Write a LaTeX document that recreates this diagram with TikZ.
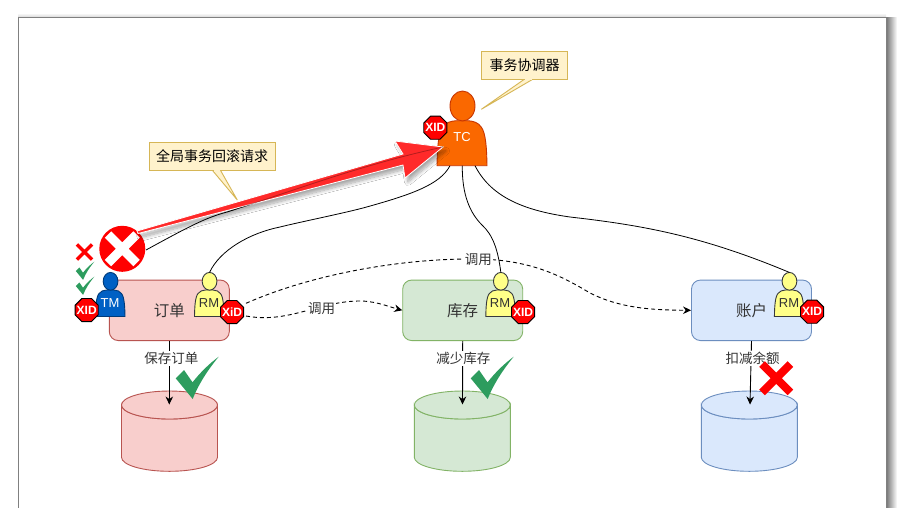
\documentclass[tikz,border=0pt]{standalone}
\usepackage{fontspec}
\setmainfont{Liberation Sans}
\newfontfamily\cjk{Noto Sans CJK SC}
\usepackage{tikz}
\usetikzlibrary{calc,shapes.geometric,arrows.meta,shadows.blur}
\definecolor{redfill}{HTML}{F8CECC}
\definecolor{redline}{HTML}{B85450}
\definecolor{greenfill}{HTML}{D5E8D4}
\definecolor{greenline}{HTML}{82B366}
\definecolor{bluefill}{HTML}{DAE8FC}
\definecolor{blueline}{HTML}{6C8EBF}
\definecolor{notefill}{HTML}{FFF2CC}
\definecolor{noteline}{HTML}{D6B656}
\definecolor{rmfill}{HTML}{FFFF88}
\definecolor{rmline}{HTML}{36393D}
\definecolor{tcfill}{HTML}{FA6800}
\definecolor{tcline}{HTML}{C73500}
\definecolor{tmfill}{HTML}{0060C4}
\definecolor{tmline}{HTML}{003A78}
\definecolor{okgreen}{HTML}{2D9C5E}
\definecolor{arrowred}{HTML}{FF2A2A}
\tikzset{
	box/.style={draw, line width=0.9, rounded corners=9, minimum width=120, minimum height=60.5, inner sep=0, font=\cjk\fontsize{15.5}{15.5}\selectfont, text=black!80},
	flow/.style={-{Stealth[length=8,width=7.5]}, black, line width=0.9},
	call/.style={flow, dash pattern=on 4 off 3},
	link/.style={black, line width=0.8},
	lbl/.style={fill=white, inner sep=1, font=\cjk\fontsize{13.5}{13.5}\selectfont, text=black!80},
	note/.style={draw=noteline, line width=0.9, fill=notefill, inner sep=0, minimum height=28, font=\cjk\fontsize{14}{14}\selectfont},
	who/.style={font=\fontsize{13}{13}\selectfont, inner sep=0},
	xidmark/.style={regular polygon, regular polygon sides=8, minimum size=25, inner sep=0, outer sep=0, draw=black, line width=0.9, fill=red, text=white, font=\fontsize{12}{12}\selectfont\bfseries},
}
% body and head, #2 = bottom left corner, #3 = scale, #4 = name of the top of the head
\def\person[#1](#2)(#3)#4{
	\begin{scope}[shift={(#2)},scale=#3]
		\draw[line width=0.9,#1] (0,0) .. controls (0.3,-16) and (1,-33) .. (6,-39) .. controls (9,-43) and (13,-44.5) .. (19,-45) -- (31,-45) .. controls (37,-44.5) and (41,-43) .. (44,-39) .. controls (49,-33) and (49.7,-16) .. (50,0) -- cycle;
		\draw[line width=0.9,#1] (25.5,-59.7) ellipse (12.5 and 15);
		\coordinate (#4) at (25.5,-74.7);
	\end{scope}
}
% can, #2 = centre of the top ellipse, #3 = name of that centre
\def\can[#1](#2)#3{
	\coordinate (#3) at (#2);
	\draw[line width=0.9,#1] ($(#3)+(-48,0)$) -- ($(#3)+(-48,52.3)$) arc (180:0:48 and 14) -- ($(#3)+(48,0)$) arc (0:180:48 and 14) -- cycle;
	\draw[line width=0.9,#1] (#3) ellipse (48 and 14);
}
\def\tick[#1](#2){
	\fill[okgreen, shift={(#2)}, scale=#1] (-16.8,-4) -- (-8.5,-12.3) -- (0,0) .. controls (8,-10) and (16,-18) .. (26.2,-25.6) .. controls (15,-12) and (6,2) .. (0.2,16.7) -- cycle;
}
\def\cross[#1,#2](#3){
	\draw[red, line width=#2, shift={(#3)}] (-#1,-#1) -- (#1,#1) (-#1,#1) -- (#1,-#1);
}
\begin{document}
\begin{tikzpicture}[x=1pt,y=-1pt]
	\useasboundingbox (0,0) rectangle (904,507);
	% page
	\shade[left color=black!55, right color=white] (886,17) rectangle (897,507);
	\shade[top color=white, bottom color=black!15] (18,13) rectangle (886,17);
	\fill[white, draw=black!50, line width=1] (18,17) -- (886,17) -- (886,515) -- (18,515) -- cycle;

	% services
	\node[box, draw=redline, fill=redfill] (order) at (169.3,310.3) {订单};
	\node[box, draw=greenline, fill=greenfill] (stock) at (462.7,310.3) {库存};
	\node[box, draw=blueline, fill=bluefill] (account) at (751.5,310.3) {账户};

	\can[draw=redline, fill=redfill](169.5,405){orderdb}
	\can[draw=greenline, fill=greenfill](462.3,405){stockdb}
	\can[draw=blueline, fill=bluefill](749.3,405){accountdb}

	\coordinate (ordertop) at (169.3,404.5);
	\coordinate (stocktop) at (462.5,404.5);
	\coordinate (accounttop) at (750,404.5);
	\draw[flow] (order.south) -- (ordertop);
	\draw[flow] (stock.south) -- (stocktop);
	\draw[flow] (account.south) -- (accounttop);
	\node[lbl] (saveorder) at (171.3,358.3) {保存订单};
	\node[lbl] (cutstock) at (463.3,358.3) {减少库存};
	\node[lbl] (cutmoney) at (752.7,358.3) {扣减余额};

	% persons
	\person[fill=tcfill,draw=tcline](437,165.7)(1){tctop}
	\person[fill=tmfill,draw=tmline](95.5,316.5)(0.59){tmtop}
	\person[fill=rmfill,draw=rmline](194.5,316.5)(0.59){rmatop}
	\person[fill=rmfill,draw=rmline](485.8,316.5)(0.59){rmbtop}
	\person[fill=rmfill,draw=rmline](774.4,316.5)(0.59){rmctop}
	\coordinate (tcleft) at (450,165.7);
	\coordinate (tcmid) at (462.3,165.7);
	\coordinate (tcright) at (475,165.7);
	\coordinate (tcside) at (443,147);
	\coordinate (stopedge) at (146,250);

	% links
	\draw[link] (stopedge) .. controls (190,226) and (205,218) .. (227,212) .. controls (290,192) and (360,165) .. (tcside);
	\draw[link] (tcleft) .. controls (440,185) and (410,195) .. (363,208) .. controls (340,214) and (300,222) .. (280,227) .. controls (250,233) and (220,250) .. (rmatop);
	\draw[link] (tcmid) .. controls (462,195) and (470,213) .. (482,225) .. controls (493,235) and (498,250) .. (rmbtop);
	\draw[link] (tcright) .. controls (490,195) and (520,210) .. (570,217) .. controls (640,225) and (700,235) .. (rmctop);

	\node[who, text=white] (tclabel) at (462,137) {TC};
	\node[who, text=white] (tmlabel) at (110,303) {TM};
	\node[who, text=black!80] (rmalabel) at (209,303) {RM};
	\node[who, text=black!80] (rmblabel) at (500,303) {RM};
	\node[who, text=black!80] (rmclabel) at (789,303) {RM};

	% calls
	\coordinate (calllowstart) at (246,316);
	\coordinate (callhighstart) at (246,303.3);
	\draw[call] (calllowstart) .. controls (290,324) and (320,300) .. (363,301) .. controls (378,302) and (390,307) .. (stock.west);
	\draw[call] (callhighstart) .. controls (310,275) and (400,258) .. (478,259) .. controls (530,260) and (560,275) .. (590,293) .. controls (620,308) and (650,310) .. (account.west);
	\node[lbl] (calllow) at (321.7,309) {调用};
	\node[lbl] (callhigh) at (478.3,260) {调用};

	% marks
	\node[xidmark] (tcxid) at (435.3,127.7) {\makebox[0pt]{XID}};
	\node[xidmark] (tmxid) at (86.7,310) {\makebox[0pt]{XID}};
	\node[xidmark] (rmaxid) at (232,312) {\makebox[0pt]{XiD}};
	\node[xidmark] (rmbxid) at (523,312) {\makebox[0pt]{XID}};
	\node[xidmark] (rmcxid) at (812,311.7) {\makebox[0pt]{XID}};

	\tick[1](192.5,382.3)
	\tick[1](487.5,382.3)
	\tick[0.43](83,272.7)
	\tick[0.43](83,287.7)
	\cross[7.6,3.4](84.5,252)
	\cross[14.2,8](776.2,378.2)

	\fill[red] (122.3,248.8) circle (23);
	\draw[white, line width=9] (108,234.5) -- (136.6,263.1) (108,263.1) -- (136.6,234.5);

	% notes
	\draw[fill=notefill, draw=noteline, line width=0.9] (524.3,79.3) -- (481.3,109.3) -- (532.7,79.3);
	\node[note, minimum width=86.4] (tcnote) at (524.5,65.3) {事务协调器};
	\fill[notefill] (525,78.5) rectangle (532,80);
	\draw[fill=notefill, draw=noteline, line width=0.9] (212.7,170.7) -- (237.3,200) -- (220.7,170.7);
	\node[note, minimum width=125.7] (rollnote) at (212.2,156.5) {全局事务回滚请求};
	\fill[notefill] (213.5,170) rectangle (220,171.5);

	% big arrow
	\coordinate (arrowtail) at (137,231);
	\coordinate (arrowtip) at (443,147);
	\fill[arrowred, draw=white, line width=0.8, blur shadow={shadow blur steps=10, shadow blur radius=3.5pt, shadow xshift=3pt, shadow yshift=-4pt, shadow opacity=35}]
		(arrowtail) -- (403,154) -- (395,141) -- (arrowtip) -- (405,178) -- (403,165) -- (138,233.5) -- cycle;
	\draw[link, opacity=0.3] (227,212) .. controls (290,192) and (360,165) .. (tcside);
\end{tikzpicture}
\end{document}
